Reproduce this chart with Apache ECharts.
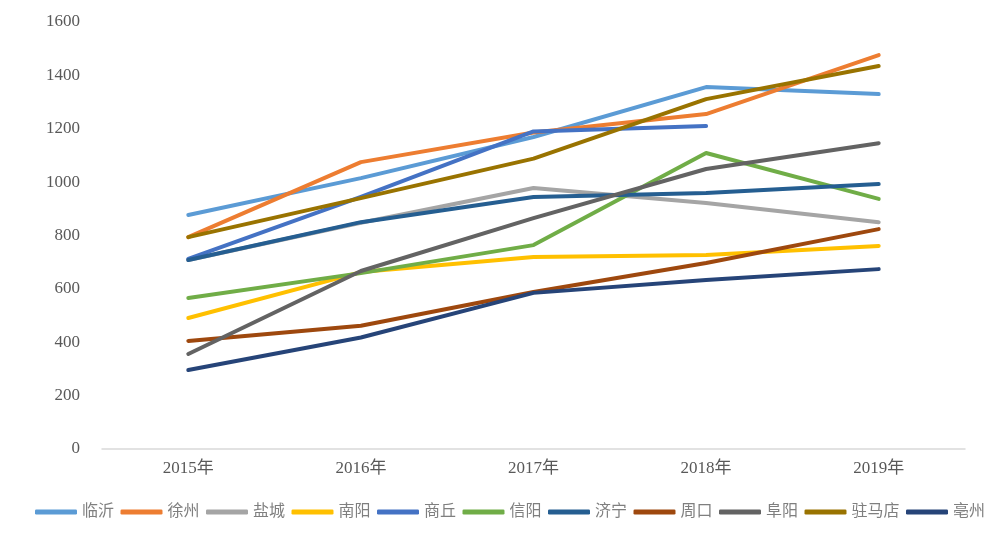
<!DOCTYPE html>
<html>
<head>
<meta charset="utf-8">
<script src="https://cdn.jsdelivr.net/npm/echarts@6/dist/echarts.min.js"></script>
<style>html,body{margin:0;padding:0;background:#fff}#c{width:992px;height:536px}</style>
</head>
<body>
<div id="c"></div>
<script>
var categories = ['2015年','2016年','2017年','2018年','2019年'];
var names = ['临沂','徐州','盐城','南阳','商丘','信阳','济宁','周口','阜阳','驻马店','亳州'];
var colors = ['#5B9BD5','#ED7D31','#A5A5A5','#FFC000','#4472C4','#70AD47','#255E91','#9E480E','#636363','#997300','#264478'];
var linyi = [877, 1015, 1169, 1356, 1330];
var xuzhou = [794, 1075, 1186, 1255, 1476];
var yancheng = [708, 848, 978, 922, 850];
var nanyang = [491, 663, 719, 727, 761];
var shangqiu = [712, 945, 1190, 1210, null];
var xinyang = [566, 659, 764, 1109, 937];
var jining = [708, 850, 944, 959, 993];
var zhoukou = [405, 462, 588, 697, 824];
var fuyang = [356, 667, 865, 1049, 1146];
var zhumadian = [794, 940, 1088, 1311, 1435];
var bozhou = [296, 418, 585, 633, 674];
var seriesValues = [linyi, xuzhou, yancheng, nanyang, shangqiu, xinyang, jining, zhoukou, fuyang, zhumadian, bozhou];

var font = '"Liberation Serif", "Noto Sans CJK SC", serif';
var chart = echarts.init(document.getElementById('c'), null, {renderer: 'canvas'});
chart.setOption({
  animation: false,
  color: colors,
  grid: {left: 102, right: 27, top: 22, bottom: 87, containLabel: false},
  legend: {
    data: names,
    left: 35,
    top: 504,
    width: 957,
    padding: 0,
    icon: 'roundRect',
    itemWidth: 42,
    itemHeight: 5,
    itemGap: 6.5,
    textStyle: {fontFamily: font, fontSize: 16, color: '#7f7f7f'}
  },
  xAxis: {
    type: 'category',
    data: categories,
    boundaryGap: true,
    axisLine: {lineStyle: {color: '#d9d9d9', width: 1.5}},
    axisTick: {show: false},
    axisLabel: {fontFamily: font, fontSize: 17, color: '#595959', margin: 11}
  },
  yAxis: {
    type: 'value',
    min: 0, max: 1600, interval: 200,
    axisLine: {show: false},
    axisTick: {show: false},
    splitLine: {show: false},
    axisLabel: {fontFamily: font, fontSize: 17, color: '#595959', margin: 22, formatter: function (v) { return String(v); }}
  },
  series: names.map(function (n, i) {
    return {
      name: n,
      type: 'line',
      data: seriesValues[i],
      symbol: 'none',
      lineStyle: {width: 4, color: colors[i], cap: 'round', join: 'round'},
      itemStyle: {color: colors[i]}
    };
  })
});
</script>
</body>
</html>
